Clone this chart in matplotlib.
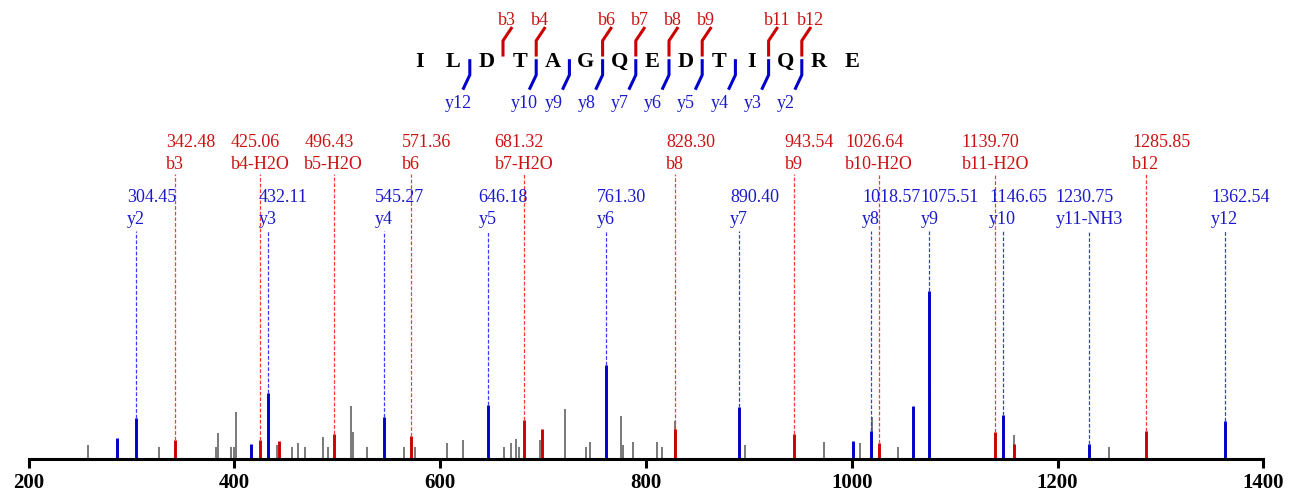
import matplotlib.pyplot as plt

plt.rcParams['font.family'] = ['Liberation Serif', 'DejaVu Serif']

W, H = 1294, 502  # размер картинки в пикселях

# последовательность пептида и места разрывов
sequence = ['I', 'L', 'D', 'T', 'A', 'G', 'Q', 'E', 'D', 'T', 'I', 'Q', 'R', 'E']
b_sites = [3, 4, 6, 7, 8, 9, 11, 12]
y_sites = [12, 10, 9, 8, 7, 6, 5, 4, 3, 2]

# подписанные b-ионы
b_mz = [342.48, 425.06, 496.43, 571.36, 681.32, 828.30, 943.54, 1026.64, 1139.70, 1285.85]
b_names = ['b3', 'b4-H2O', 'b5-H2O', 'b6', 'b7-H2O', 'b8', 'b9', 'b10-H2O', 'b11-H2O', 'b12']
b_int = [11.3, 11.3, 14.9, 13.7, 23.2, 17.9, 14.9, 9.5, 16.1, 16.7]

# подписанные y-ионы
y_mz = [304.45, 432.11, 545.27, 646.18, 761.30, 890.40, 1018.57, 1075.51, 1146.65, 1230.75, 1362.54]
y_names = ['y2', 'y3', 'y4', 'y5', 'y6', 'y7', 'y8', 'y9', 'y10', 'y11-NH3', 'y12']
y_int = [24.4, 39.3, 25.0, 32.1, 56.0, 31.0, 16.7, 100.0, 26.2, 8.9, 22.6]

# совпавшие пики без подписи
b_extra_mz = [443.4, 699.1, 1158.0]
b_extra_int = [10.7, 17.9, 8.9]
y_extra_mz = [286.1, 415.8, 1001.2, 1059.1]
y_extra_int = [12.5, 8.9, 10.7, 31.5]

# остальные (серые) пики
other_mz = [257.4, 326.4, 382.1, 384.1, 396.4, 399.9, 401.8, 441.1, 456.0, 462.1,
            468.6, 485.9, 491.0, 513.1, 515.0, 529.2, 564.6, 575.6, 606.4, 622.3,
            662.1, 668.6, 673.5, 676.4, 697.1, 721.1, 741.6, 745.8, 775.6, 777.2,
            786.9, 810.6, 815.8, 828.5, 891.3, 895.8, 973.0, 1008.0, 1019.5, 1044.5,
            1076.0, 1158.0, 1249.7]
other_int = [8.3, 7.1, 7.1, 15.5, 7.1, 7.1, 28.0, 8.3, 7.1, 9.5,
             7.1, 13.1, 7.1, 31.5, 16.1, 7.1, 7.1, 7.1, 9.5, 11.3,
             7.1, 9.5, 11.9, 7.1, 11.3, 29.8, 7.1, 10.1, 25.6, 8.3,
             10.1, 10.1, 7.1, 22.6, 15.5, 8.3, 10.1, 9.5, 25.0, 7.1,
             40.5, 14.3, 7.1]

RED, BLUE = '#cc0000', '#0000cc'
RED_TXT, BLUE_TXT = '#cc1111', '#1a1acc'
RED_DASH, BLUE_DASH = '#ff3b3b', '#3b3bff'
GRAY = '#555555'

fig = plt.figure(figsize=(W / 100, H / 100), dpi=100)
base_px = 460   # положение оси x в пикселях сверху
px_per_unit = 1.68  # пикселей на 1% интенсивности
ax = fig.add_axes([28.7 / W, (H - base_px) / H, (1263.3 - 28.7) / W, base_px / H])
ax.set_xlim(200, 1400)
ax.set_ylim(0, base_px / px_per_unit)


def py2y(py):  # пиксели сверху -> единицы интенсивности
    return (base_px - py) / px_per_unit


# пики
ax.vlines(other_mz, 0, other_int, colors=GRAY, linewidth=1.1)
ax.vlines(b_mz + b_extra_mz, 0, b_int + b_extra_int, colors=RED, linewidth=2.1)
ax.vlines(y_mz + y_extra_mz, 0, y_int + y_extra_int, colors=BLUE, linewidth=2.1)


def label_peak(mz, inten, name, color, tcolor, dcolor, top_px, name_px, mass_px):
    ax.vlines(mz, inten, py2y(top_px), colors=dcolor, linestyles=(0, (3, 1.5)), linewidth=0.9)
    t = ax.text(mz, py2y(name_px), name, color=tcolor, ha='center', va='baseline', fontsize=13)
    ax.annotate(f'{mz:.2f}', xy=(0, py2y(mass_px)), xycoords=(t, 'data'),
                ha='left', va='baseline', color=tcolor, fontsize=13)


for mz, inten, name in zip(b_mz, b_int, b_names):
    label_peak(mz, inten, name, RED, RED_TXT, RED_DASH, 175, 169, 147.3)
for mz, inten, name in zip(y_mz, y_int, y_names):
    label_peak(mz, inten, name, BLUE, BLUE_TXT, BLUE_DASH, 232, 223.5, 201.7)

# оформление оси
for side in ['left', 'right', 'top']:
    ax.spines[side].set_visible(False)
ax.spines['bottom'].set_linewidth(2.2)
ax.set_yticks([])
ax.set_xticks(range(200, 1401, 200))
ax.tick_params(axis='x', direction='out', length=6.5, width=2.2, pad=3, labelsize=15)
for lbl in ax.get_xticklabels():
    lbl.set_fontweight('bold')

# последовательность сверху (в пикселях картинки)
def fx(x):
    return x / W


def fy(y):
    return 1 - y / H


x0, step = 420, 33.2
for i, aa in enumerate(sequence):
    fig.text(fx(x0 + i * step), fy(66.7), aa, ha='center', va='baseline',
             fontsize=16, fontweight='bold')

for n in b_sites:
    xm = x0 + (n - 0.5) * step
    fig.add_artist(plt.Line2D([fx(xm), fx(xm), fx(xm + 8.3)], [fy(56), fy(41.7), fy(29.3)],
                              transform=fig.transFigure, color=RED, linewidth=2.2))
    fig.text(fx(xm - 5), fy(24.7), f'b{n}', color=RED_TXT, ha='left', va='baseline', fontsize=13)

for n in y_sites:
    xm = x0 + (len(sequence) - n - 0.5) * step
    fig.add_artist(plt.Line2D([fx(xm), fx(xm), fx(xm - 6.3)], [fy(61.7), fy(76), fy(89.3)],
                              transform=fig.transFigure, color=BLUE, linewidth=2.2))
    fig.text(fx(xm - 25), fy(108.3), f'y{n}', color=BLUE_TXT, ha='left', va='baseline', fontsize=13)

fig.savefig('out.png', dpi=100)
